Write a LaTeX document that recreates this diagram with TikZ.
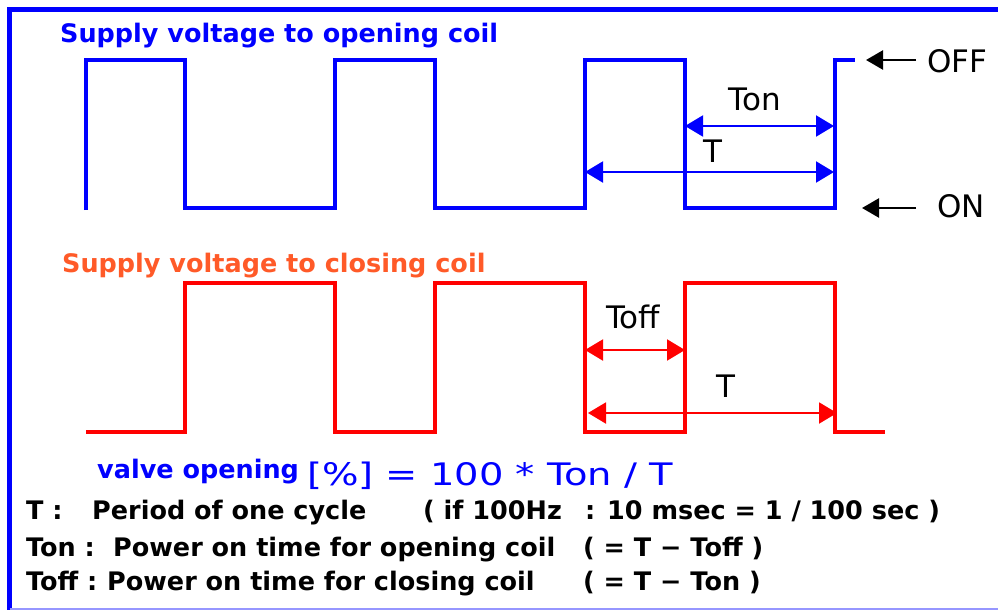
\documentclass[tikz,border=0pt]{standalone}
\usepackage{fontspec}
\setmainfont{DejaVu Sans}
\newfontfamily\widefont[FakeStretch=1.24]{DejaVu Sans}
\usetikzlibrary{arrows.meta}
\definecolor{wblue}{RGB}{0,0,255}
\definecolor{wred}{RGB}{255,0,0}
\definecolor{worange}{RGB}{255,90,40}
\definecolor{framelow}{RGB}{150,150,255}
\begin{document}
\begin{tikzpicture}[x=1pt,y=-1pt,
  btxt/.style={font=\fontsize{25.5}{30}\selectfont\bfseries, anchor=base west, inner sep=0pt},
  lbl/.style={font=\fontsize{31}{36}\selectfont, anchor=base, inner sep=0pt},
  wave/.style={line width=4pt, line join=miter},
  dimarrow/.style={line width=2pt, {Triangle[length=18pt,width=21pt]}-{Triangle[length=18pt,width=21pt]}},
  levelarrow/.style={line width=2.5pt, -{Triangle[length=17pt,width=19pt]}}]
\useasboundingbox (0,0) rectangle (998,610);
% frame
\draw[wblue, line width=5pt] (998,9.5) -- (9.5,9.5) -- (9.5,610);
\draw[framelow, line width=2pt] (9.5,609) -- (998,609);
% titles
\node[btxt, wblue] (t1) at (60,43) {Supply voltage to opening coil};
\node[btxt, worange] (t2) at (62,272) {Supply voltage to closing coil};
% blue waveform
\draw[wave, wblue] (86,210) -- (86,60) -- (185,60) -- (185,208) -- (335,208) -- (335,60) -- (435,60) -- (435,208) -- (585,208) -- (585,60) -- (685,60) -- (685,208) -- (835,208) -- (835,60) -- (855,60);
% red waveform
\draw[wave, wred] (86,432) -- (185,432) -- (185,283) -- (335,283) -- (335,432) -- (435,432) -- (435,283) -- (585,283) -- (585,432) -- (685,432) -- (685,283) -- (835,283) -- (835,432) -- (885,432);
% dimension coordinates
\coordinate (tonL) at (685,126);
\coordinate (tonR) at (834,126);
\coordinate (tbL) at (585,172);
\coordinate (tbR) at (834,172);
\coordinate (toffL) at (585,350);
\coordinate (toffR) at (685,350);
\coordinate (trL) at (588,413);
\coordinate (trR) at (837,413);
\draw[dimarrow, wblue] (tonL) -- (tonR);
\draw[dimarrow, wblue] (tbL) -- (tbR);
\draw[dimarrow, wred] (toffL) -- (toffR);
\draw[dimarrow, wred] (trL) -- (trR);
\node[lbl] (lton) at (755,110) {Ton};
\node[lbl] (lt1) at (713,162) {T};
\node[lbl] (ltoff) at (633,328) {Toff};
\node[lbl] (lt2) at (726,397) {T};
% OFF / ON
\coordinate (offT) at (916,60);
\coordinate (offH) at (866,60);
\coordinate (onT) at (916,208);
\coordinate (onH) at (862,208);
\draw[levelarrow] (offT) -- (offH);
\draw[levelarrow] (onT) -- (onH);
\node[lbl, anchor=base west] (loff) at (927,72) {OFF};
\node[lbl, anchor=base west] (lon) at (937,217) {ON};
% formula
\node[btxt, wblue] (f1) at (97,478) {valve opening};
\node[anchor=base west, inner sep=0pt, wblue, font=\fontsize{31}{36}\selectfont\widefont] (f2) at (307,485) {[\%] = 100 * Ton / T};
% legend
\node[btxt] (k1) at (26,519) {T :};
\node[btxt] (d1) at (92,519) {Period of one cycle};
\node[btxt] (e1) at (423,519) {( if 100Hz};
\node[btxt] (g1) at (585,519) {: 10 msec = 1 / 100 sec )};
\node[btxt] (k2) at (26,556) {Ton :};
\node[btxt] (d2) at (113,556) {Power on time for opening coil};
\node[btxt] (e2) at (583,556) {( = T − Toff )};
\node[btxt] (k3) at (26,590) {Toff :};
\node[btxt] (d3) at (107,590) {Power on time for closing coil};
\node[btxt] (e3) at (583,590) {( = T − Ton )};
\end{tikzpicture}
\end{document}
